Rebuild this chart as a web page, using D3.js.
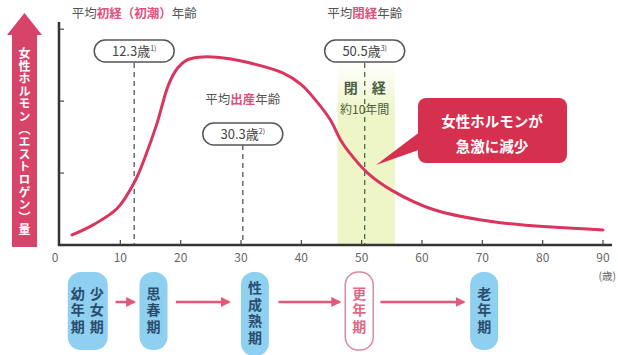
<!DOCTYPE html>
<html>
<head>
<meta charset="utf-8">
<script src="https://cdn.jsdelivr.net/npm/d3@7"></script>
<style>
  body { margin: 0; background: #fff; }
  text { font-family: "Noto Sans CJK JP", "Noto Sans", sans-serif; }
</style>
</head>
<body>
<svg id="chart" width="618" height="355"></svg>
<script>
// estrogen level (relative) by age
const ages   = [2, 5.5, 9.5, 12.5, 14, 16, 18, 19.5, 21, 23, 26, 31, 37, 40, 42.5, 44.8, 46.5, 48, 51, 55, 62, 73, 90];
const levels = [0.14, 0.28, 0.51, 0.9, 1.2, 1.67, 2.23, 2.46, 2.57, 2.61, 2.61, 2.54, 2.39, 2.23, 2.0, 1.74, 1.46, 1.28, 1.0, 0.76, 0.49, 0.31, 0.21];
const xTicks = [0, 10, 20, 30, 40, 50, 60, 70, 80, 90];
const yTicks = [1, 2, 3];

// average ages marked on the chart
const markers = [
  { age: 12.3, label: "12.3歳", note: "1)", title: ["平均", "初経（初潮）", "年齢"], titleY: 18, pillY: 51, lineTop: 63 },
  { age: 30.3, label: "30.3歳", note: "2)", title: ["平均", "出産", "年齢"], titleY: 104, pillY: 134, lineTop: 145 },
  { age: 50.5, label: "50.5歳", note: "3)", title: ["平均", "閉経", "年齢"], titleY: 18, pillY: 51, lineTop: 63 }
];
const menopauseBand = [46, 55.5];

// life stages along the bottom
const stages = [
  { age: 4.6, cols: ["少女期", "幼年期"], kind: "blue" },
  { age: 15.5, cols: ["思春期"], kind: "blue" },
  { age: 32.3, cols: ["性成熟期"], kind: "blue" },
  { age: 49.6, cols: ["更年期"], kind: "outline" },
  { age: 70.3, cols: ["老年期"], kind: "blue" }
];
const stageArrows = [[9.2, 12.3], [19.2, 28], [36.2, 46.3], [53.1, 66.9]];

const svg = d3.select("#chart");
const x = d3.scaleLinear().domain([0, 90]).range([60, 603]);
const y = d3.scaleLinear().domain([0, 3.1]).range([245, 22]);

const pink = "#d8365e";
const lightPink = "#e2577a";

const defs = svg.append("defs");
const grad = defs.append("linearGradient").attr("id", "band").attr("x1", 0).attr("x2", 0).attr("y1", 0).attr("y2", 1);
grad.append("stop").attr("offset", "0%").attr("stop-color", "#f4f8d8").attr("stop-opacity", 0.1);
grad.append("stop").attr("offset", "25%").attr("stop-color", "#eef5c6");
grad.append("stop").attr("offset", "100%").attr("stop-color", "#eef5c6");
defs.append("marker").attr("id", "ah").attr("viewBox", "0 0 10 10").attr("refX", 8).attr("refY", 5)
  .attr("markerWidth", 4).attr("markerHeight", 4).attr("orient", "auto")
  .append("path").attr("d", "M0,0L10,5L0,10z").attr("fill", lightPink);

// menopause band
svg.append("rect")
  .attr("x", x(menopauseBand[0])).attr("y", 64)
  .attr("width", x(menopauseBand[1]) - x(menopauseBand[0])).attr("height", 245 - 64)
  .attr("fill", "url(#band)");

// y axis label arrow
svg.append("path")
  .attr("d", "M12,247L12,35L7,35L24.5,13L42,35L37,35L37,247Z")
  .attr("fill", "#d8436a");
svg.append("text")
  .attr("x", 24.5).attr("y", 142)
  .attr("text-anchor", "middle")
  .attr("dominant-baseline", "central")
  .style("writing-mode", "vertical-rl")
  .attr("font-size", 12).attr("font-weight", "bold").attr("fill", "#fff")
  .attr("letter-spacing", 0.6)
  .text("女性ホルモン（エストロゲン）量");

// axes
svg.append("line").attr("x1", 59).attr("x2", 59).attr("y1", 22).attr("y2", 246)
  .attr("stroke", "#333").attr("stroke-width", 2.5);
svg.append("line").attr("x1", 58).attr("x2", 612).attr("y1", 245).attr("y2", 245)
  .attr("stroke", "#333").attr("stroke-width", 2.5);
svg.selectAll(".yt").data(yTicks).enter().append("line")
  .attr("x1", 59).attr("x2", 64).attr("y1", d => y(d)).attr("y2", d => y(d))
  .attr("stroke", "#444").attr("stroke-width", 1.2);
svg.selectAll(".xt").data(xTicks.slice(1)).enter().append("line")
  .attr("x1", d => x(d)).attr("x2", d => x(d)).attr("y1", 245).attr("y2", 240)
  .attr("stroke", "#444").attr("stroke-width", 1.2);
svg.selectAll(".xl").data(xTicks).enter().append("text")
  .attr("x", d => x(d) - (d === 0 ? 5 : 0)).attr("y", 262)
  .attr("text-anchor", "middle").attr("font-size", 12).attr("fill", "#666")
  .text(d => d);
svg.append("text").attr("x", 616).attr("y", 280).attr("text-anchor", "end")
  .attr("font-size", 10.5).attr("fill", "#666").text("(歳)");

// marker dashed lines, titles and pills
markers.forEach(m => {
  const cx = x(m.age);
  svg.append("line").attr("x1", cx).attr("x2", cx).attr("y1", m.lineTop).attr("y2", 244)
    .attr("stroke", m.age > 45 ? "#4d6a4a" : "#555").attr("stroke-width", 1.3)
    .attr("stroke-dasharray", "5,4");
  const t = svg.append("text").attr("x", cx).attr("y", m.titleY).attr("text-anchor", "middle")
    .attr("font-size", 12.5).attr("fill", "#555");
  m.title.forEach((s, i) => t.append("tspan").text(s)
    .attr("fill", i === 1 ? "#e0507a" : "#555").attr("font-weight", i === 1 ? "bold" : "normal"));
  svg.append("rect").attr("x", cx - 40).attr("y", m.pillY - 11).attr("width", 80).attr("height", 22)
    .attr("rx", 11).attr("fill", "#fff").attr("stroke", "#555").attr("stroke-width", 1.5);
  const p = svg.append("text").attr("x", cx).attr("y", m.pillY + 5).attr("text-anchor", "middle")
    .attr("font-size", 13).attr("fill", "#444");
  p.append("tspan").text(m.label);
  p.append("tspan").text(m.note).attr("font-size", 7).attr("dy", -5);
});

// menopause duration
svg.append("text").attr("x", x(50.5)).attr("y", 93).attr("text-anchor", "middle")
  .attr("font-size", 14).attr("font-weight", "bold").attr("fill", "#4b5e45").text("閉　経");
svg.append("text").attr("x", x(50.5)).attr("y", 114).attr("text-anchor", "middle")
  .attr("font-size", 12).attr("fill", "#4b5e45").text("約10年間");

// curve
const pts = ages.map((a, i) => [a, levels[i]]);
svg.append("path").datum(pts)
  .attr("d", d3.line().x(d => x(d[0])).y(d => y(d[1])).curve(d3.curveCatmullRom.alpha(0.5)))
  .attr("fill", "none").attr("stroke", pink).attr("stroke-width", 3).attr("stroke-linecap", "round");

// callout
svg.append("path").attr("d", "M425,128L376,165L430,146Z").attr("fill", "#d6304f");
svg.append("rect").attr("x", 418).attr("y", 98).attr("width", 149).attr("height", 65).attr("rx", 8)
  .attr("fill", "#d6304f");
svg.append("text").attr("x", 492).attr("y", 127).attr("text-anchor", "middle")
  .attr("font-size", 14.5).attr("font-weight", "bold").attr("fill", "#fff").text("女性ホルモンが");
svg.append("text").attr("x", 492).attr("y", 152).attr("text-anchor", "middle")
  .attr("font-size", 14.5).attr("font-weight", "bold").attr("fill", "#fff").text("急激に減少");

// stage pills
stages.forEach(s => {
  const cx = x(s.age);
  const n = d3.max(s.cols, c => c.length);
  const w = s.cols.length > 1 ? 40 : 28;
  const h = n > 3 ? 84 : 78;
  svg.append("rect").attr("x", cx - w / 2).attr("y", 272).attr("width", w).attr("height", h)
    .attr("rx", 13)
    .attr("fill", s.kind === "blue" ? "#8fd0f0" : "#fff")
    .attr("stroke", s.kind === "blue" ? "none" : "#d98a9c").attr("stroke-width", 1.5);
  s.cols.forEach((c, i) => {
    const colX = s.cols.length > 1 ? cx + 9 - i * 19 : cx;
    svg.append("text").attr("x", colX).attr("y", 272 + h / 2)
      .attr("text-anchor", "middle").attr("dominant-baseline", "central")
      .style("writing-mode", "vertical-rl")
      .attr("font-size", 14).attr("font-weight", "bold").attr("letter-spacing", 2.5)
      .attr("fill", s.kind === "blue" ? "#2a4d6e" : "#e06a86")
      .text(c);
  });
});
svg.selectAll(".sa").data(stageArrows).enter().append("line")
  .attr("x1", d => x(d[0])).attr("x2", d => x(d[1])).attr("y1", 302).attr("y2", 302)
  .attr("stroke", lightPink).attr("stroke-width", 2.5).attr("marker-end", "url(#ah)");
</script>
</body>
</html>
